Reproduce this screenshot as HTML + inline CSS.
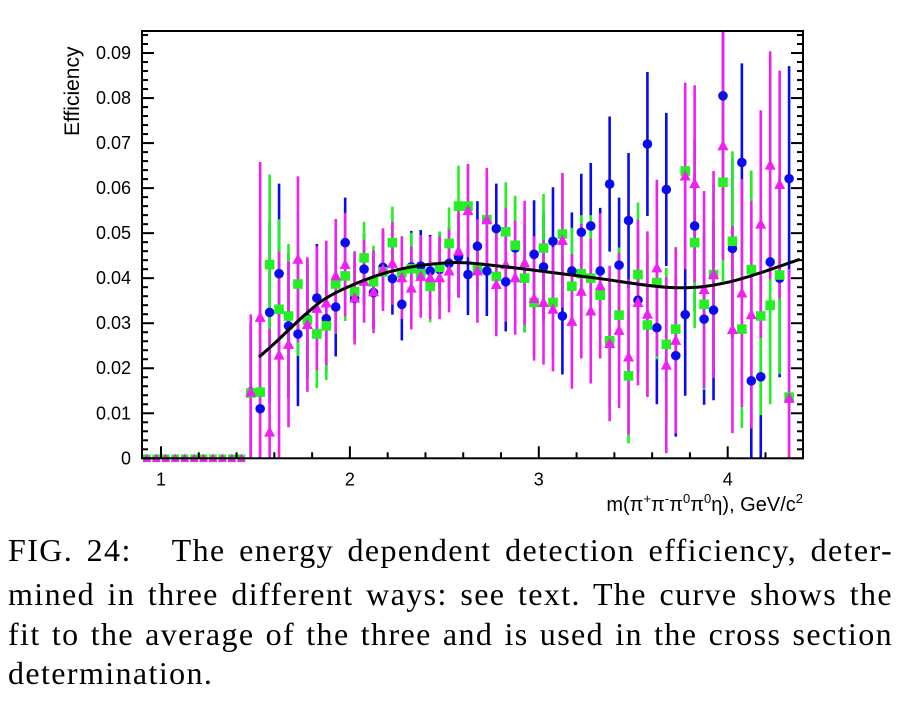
<!DOCTYPE html>
<html><head><meta charset="utf-8"><style>
body{margin:0;background:#fff;width:917px;height:711px;overflow:hidden;position:relative}
.cap{position:absolute;left:8px;width:885px;font-family:"Liberation Serif",serif;font-size:32px;letter-spacing:1.4px;line-height:36px;color:#000;text-align:justify;text-align-last:justify;white-space:nowrap}
</style></head><body>
<svg id="chart" width="917" height="530" style="position:absolute;left:0;top:0" xmlns="http://www.w3.org/2000/svg"></svg>
<div class="cap" style="top:532px">FIG. 24: &nbsp; The energy dependent detection efficiency, deter-</div>
<div class="cap" style="top:576px">mined in three different ways: see text. The curve shows the</div>
<div class="cap" style="top:616px">fit to the average of the three and is used in the cross section</div>
<div class="cap" style="top:655px;text-align-last:left;width:auto">determination.</div>
<script>
const binStart = 0.925, binWidth = 0.05;
const zeroBins = 11;
const blueVals = [.0147,.011,.0324,.041,.0294,.0276,.031,.0356,.031,.0336,.0479,.0355,.042,.0368,.0424,.0399,.0342,.0425,.0427,.0416,.0419,.0433,.0447,.0408,.0471,.0416,.051,.0392,.0467,.040,.0453,.0425,.0482,.0316,.0416,.0502,.0516,.0416,.0609,.0429,.0528,.0351,.0698,.029,.0597,.0228,.0319,.0516,.0309,.0329,.0805,.0466,.0657,.0172,.0181,.0436,.040,.0621];
const greenVals = [.0145,.0147,.043,.0331,.0316,.0387,.0307,.0276,.0294,.0387,.0405,.037,.0445,.0392,.0414,.0479,.0412,.0421,.041,.0382,.0424,.0477,.056,.056,.042,.053,.0404,.0503,.0473,.040,.0346,.0467,.0346,.0498,.0382,.041,.040,.0362,.0261,.0318,.0183,.0408,.0296,.039,.0253,.0287,.0638,.0479,.0342,.0408,.0613,.0482,.0287,.0419,.0316,.034,.0407,.0136];
const pinkVals = [.0147,.0313,.0058,.0229,.0253,.0442,.0297,.0333,.0345,.0405,.043,.0356,.0393,.037,.0419,.0433,.0401,.0378,.0404,.0401,.0401,.0416,.046,.055,.0416,.053,.0386,.043,.0401,.0434,.0355,.0346,.0331,.0484,.0304,.0371,.0327,.0383,.0255,.0284,.0225,.0346,.032,.0423,.0207,.0262,.0627,.061,.0375,.0408,.0694,.0286,.0367,.0319,.052,.0651,.0608,.0133];
const errVals = [.015,.03,.02,.02,.016,.016,.013,.012,.012,.011,.01,.009,.008,.008,.008,.008,.008,.008,.008,.008,.008,.008,.009,.009,.01,.01,.01,.011,.011,.012,.012,.012,.012,.013,.013,.013,.014,.014,.015,.015,.015,.016,.016,.017,.017,.018,.018,.019,.019,.02,.022,.02,.022,.022,.022,.022,.022,.025];
const pinkErrScale = [1.15];
const fitX = [1.519,1.6,1.771,1.9,2.124,2.3,2.477,2.653,3.006,3.306,3.712,4.012,4.382];
const fitY = [.0225,.0255,.0322,.0362,.0403,.0423,.0433,.0433,.0416,.040,.0379,.0392,.0442];
const xTicks = [1,2,3,4];
const yTicks = [0,0.01,0.02,0.03,0.04,0.05,0.06,0.07,0.08,0.09];

const svg = document.getElementById('chart');
const NS = 'http://www.w3.org/2000/svg';
const L=142,R=803,T=31,B=458.3;
const X = v => 161 + (v-1)*188.9;
const Y = v => B - v*4503;
function mk(tag, attrs){const e=document.createElementNS(NS,tag);for(const k in attrs)e.setAttribute(k,attrs[k]);svg.appendChild(e);return e;}

const defs=mk('defs',{});
const cp=document.createElementNS(NS,'clipPath');cp.setAttribute('id','clip');
const cr=document.createElementNS(NS,'rect');cr.setAttribute('x',L);cr.setAttribute('y',T);cr.setAttribute('width',R-L);cr.setAttribute('height',B-T+8);
cp.appendChild(cr);defs.appendChild(cp);
const g=mk('g',{'clip-path':'url(#clip)'});



const series=[
 {vals:blueVals,color:'#0a0af0',shape:'circle',name:'blue',es:1},
 {vals:greenVals,color:'#22f022',shape:'square',name:'green',es:1},
 {vals:pinkVals,color:'#f020f0',shape:'triangle',name:'pink',es:pinkErrScale[0]}
];
function bin(i){return binStart+binWidth*i;}
series.forEach(s=>{
 for(let i=zeroBins;i<zeroBins+s.vals.length;i++){
  const k=i-zeroBins, v=s.vals[k], e=errVals[k]*s.es;
  const l=document.createElementNS(NS,'line');
  l.setAttribute('x1',X(bin(i)));l.setAttribute('x2',X(bin(i)));
  l.setAttribute('y1',Y(Math.max(0,v-e)));l.setAttribute('y2',Y(v+e));
  l.setAttribute('stroke',s.color);l.setAttribute('stroke-width','2.6');
  
  
  g.appendChild(l);
 }
});
series.forEach(s=>{
 for(let i=0;i<zeroBins+s.vals.length;i++){
  const v=i<zeroBins?0:s.vals[i-zeroBins];
  const cx=X(bin(i)), cy=Y(v);
  const sz=i<zeroBins?0.8:1;
  let m;
  if(s.shape==='circle'){m=document.createElementNS(NS,'circle');m.setAttribute('cx',cx);m.setAttribute('cy',cy);m.setAttribute('r',4.8*sz);}
  else if(s.shape==='square'){m=document.createElementNS(NS,'rect');m.setAttribute('x',cx-4.8*sz);m.setAttribute('y',cy-4.8*sz);m.setAttribute('width',9.6*sz);m.setAttribute('height',9.6*sz);}
  else {m=document.createElementNS(NS,'polygon');m.setAttribute('points',`${cx},${cy-6*sz} ${cx-5.5*sz},${cy+4.5*sz} ${cx+5.5*sz},${cy+4.5*sz}`);}
  m.setAttribute('fill',s.color);
  
  
  g.appendChild(m);
 }
});
let d='M'+X(fitX[0])+','+Y(fitY[0]);
const P=fitX.map((x,i)=>[X(x),Y(fitY[i])]);
for(let i=0;i<P.length-1;i++){
 const p0=P[Math.max(0,i-1)],p1=P[i],p2=P[i+1],p3=P[Math.min(P.length-1,i+2)];
 d+=` C${p1[0]+(p2[0]-p0[0])/6},${p1[1]+(p2[1]-p0[1])/6} ${p2[0]-(p3[0]-p1[0])/6},${p2[1]-(p3[1]-p1[1])/6} ${p2[0]},${p2[1]}`;
}
const fit=document.createElementNS(NS,'path');
fit.setAttribute('d',d);fit.setAttribute('fill','none');fit.setAttribute('stroke','#000');fit.setAttribute('stroke-width','3');


g.appendChild(fit);

const fr=mk('rect',{x:L,y:T,width:R-L,height:B-T,fill:'none',stroke:'#000','stroke-width':2});


for(let v=1;v<=4.4;v+=0.2){
 const major=Math.abs(v-Math.round(v))<1e-6, len=major?12:6;
 const x=X(v); if(x<L||x>R)continue;
 const t=mk('line',{x1:x,x2:x,y1:B,y2:B-len,stroke:'#000','stroke-width':2});
 
 
}
xTicks.forEach(v=>{
 const t=mk('text',{x:X(v),y:B+27,'text-anchor':'middle','font-family':'Liberation Sans, sans-serif','font-size':18});
 t.textContent=String(v);
 
 
});
for(let i=0;i<=47;i++){
 const v=i*0.002, y=Y(v); if(y<T)continue;
 const len=(i%5===0)?12:6;
 const a=mk('line',{x1:L,x2:L+len,y1:y,y2:y,stroke:'#000','stroke-width':2});
 
 
 const b=mk('line',{x1:R,x2:R-len,y1:y,y2:y,stroke:'#000','stroke-width':2});
 
 
}
yTicks.forEach(v=>{
 const t=mk('text',{x:131,y:Y(v)+6,'text-anchor':'end','font-family':'Liberation Sans, sans-serif','font-size':18});
 t.textContent=v===0?'0':v.toFixed(2);
 
 
});
const yt=mk('text',{x:0,y:0,transform:'translate(79,136) rotate(-90)','font-family':'Liberation Sans, sans-serif','font-size':21});
yt.textContent='Efficiency';


const xt=mk('text',{x:803,y:511,'text-anchor':'end','font-family':'Liberation Sans, sans-serif','font-size':20});
xt.innerHTML='m(π<tspan dy="-8" font-size="13">+</tspan><tspan dy="8">π</tspan><tspan dy="-8" font-size="13">-</tspan><tspan dy="8">π</tspan><tspan dy="-8" font-size="13">0</tspan><tspan dy="8">π</tspan><tspan dy="-8" font-size="13">0</tspan><tspan dy="8">η), GeV/c</tspan><tspan dy="-8" font-size="13">2</tspan>';


</script>
</body></html>
